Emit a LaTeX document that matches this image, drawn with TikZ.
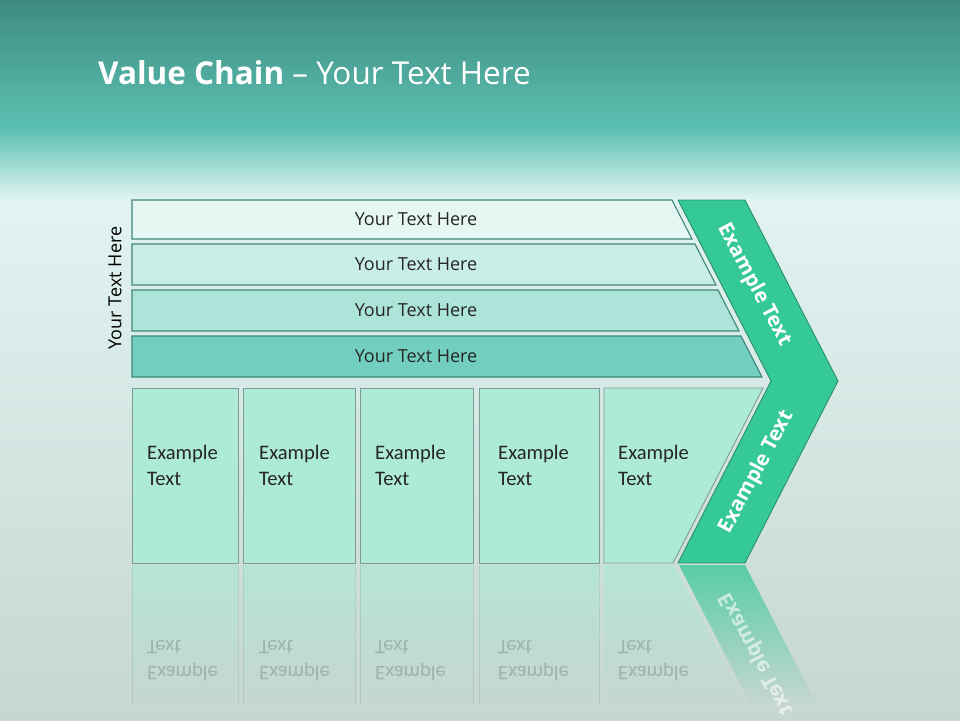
\documentclass[tikz,border=0pt]{standalone}
\usepackage{fontspec}
\setmainfont{Carlito}
\newfontfamily\segoe{Open Sans}
\definecolor{topteal}{HTML}{3F8B81}
\definecolor{midteal}{HTML}{5BC0B1}
\definecolor{lightbg}{HTML}{E1F4F1}
\definecolor{lowbg}{HTML}{C6D6D2}
\definecolor{barA}{HTML}{E5F6F3}
\definecolor{barB}{HTML}{C9EDE7}
\definecolor{barC}{HTML}{ADE4DA}
\definecolor{barD}{HTML}{72CFBF}
\definecolor{barline}{HTML}{3E8678}
\definecolor{boxfill}{HTML}{AEEBD6}
\definecolor{boxline}{HTML}{7E9C96}
\definecolor{chevfill}{HTML}{34C995}
\definecolor{chevline}{HTML}{2B8F6C}
\begin{document}
\begin{tikzpicture}[x=1pt,y=-1pt,
    bar/.style={draw=barline,line width=1.1pt},
    box/.style={draw=boxline,fill=boxfill,line width=0.9pt},
    bartext/.style={font=\segoe\fontsize{18}{22}\selectfont,text=black!85},
    boxtext/.style={font=\fontsize{20.6}{26}\selectfont,align=left,anchor=north west,inner sep=0pt,text=black!85},
    chevtext/.style={font=\segoe\bfseries\fontsize{20.5}{24}\selectfont,text=white}]
  \useasboundingbox (0,0) rectangle (960,720);
  % background
  \shade[top color=topteal,bottom color=midteal] (0,0) rectangle (960,128);
  \shade[top color=midteal,bottom color=lightbg] (0,128) rectangle (960,200);
  \shade[top color=lightbg,bottom color=lowbg] (0,200) rectangle (960,720);
  \node[anchor=base west,inner sep=0pt,text=white,font=\segoe\fontsize{31.5}{38}\selectfont] (title) at (98,84) {\textbf{Value Chain} – Your Text Here};
  % bars
  \foreach \t/\b/\r/\s/\c/\n in {200/239/672/692/barA/1,244/285/695/716/barB/2,290/331/718/739/barC/3,336/377/741/762/barD/4}{
    \draw[bar,fill=\c] (132,\t) -- (\r,\t) -- (\s,\b) -- (132,\b) -- cycle;
    \node[bartext] (bar\n) at (416,{(\t+\b)/2}) {Your Text Here};
  }
  \node[bartext,rotate=90,text=black] (side) at (115,288) {Your Text Here};
  % boxes
  \foreach \l/\r/\tx/\n in {132/238/147/1,243/355/259/2,360/473/375/3,479/599/498/4}{
    \draw[box] (\l,388) rectangle (\r,563);
    \node[boxtext] (box\n) at (\tx,445) {Example\\Text};
  }
  \draw[box] (604,388) -- (763,388) -- (673,563) -- (604,563) -- cycle;
  \node[boxtext] (box5) at (618,445) {Example\\Text};
  % chevron
  \draw[fill=chevfill,draw=chevline,line width=0.9pt] (678,200) -- (745,200) -- (838,381) -- (745,563) -- (678,563) -- (771,381) -- cycle;
  \node[chevtext,rotate=-62] (chevup) at (754,285) {Example Text};
  \node[chevtext,rotate=62] (chevdown) at (757,472) {Example Text};
  % reflection
  \foreach \l/\r in {132/238,243/355,360/473,479/599}{
    \shade[top color=boxfill!70!lowbg,bottom color=lowbg] (\l,565) rectangle (\r,705);
    \draw[boxline,opacity=.25] (\l,565) -- (\l,705) (\r,565) -- (\r,705);
  }
  \shade[top color=boxfill!70!lowbg,bottom color=lowbg] (604,565) -- (674,565) -- (746,705) -- (604,705) -- cycle;
  \shade[top color=chevfill!75!lowbg,bottom color=lowbg] (679,565) -- (745,565) -- (817,705) -- (751,705) -- cycle;
  \begin{scope}[shift={(0,1126)},yscale=-1,transform shape,opacity=.22]
    \foreach \tx in {147,259,375,498,618}
      \node[boxtext] at (\tx,445) {Example\\Text};
    \node[chevtext,rotate=62,opacity=.6] at (757,472) {Example Text};
  \end{scope}
\end{tikzpicture}
\end{document}
